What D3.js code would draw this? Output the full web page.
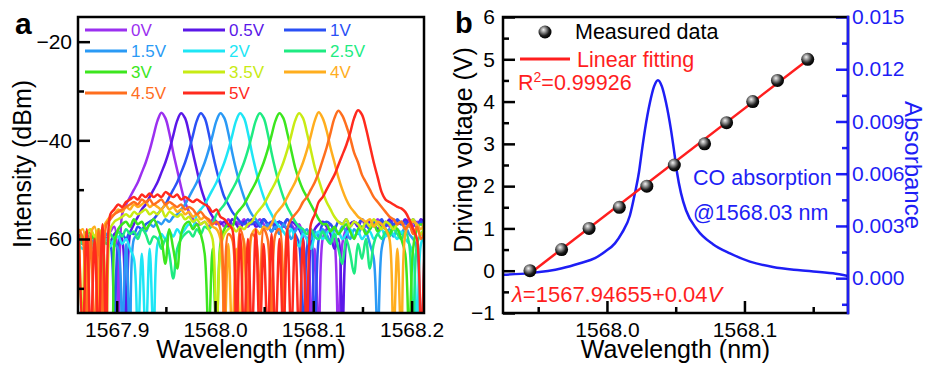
<!DOCTYPE html>
<html>
<head>
<meta charset="utf-8">
<script src="https://cdn.jsdelivr.net/npm/d3@7"></script>
<style>
    body { margin: 0; background: #fff; }
    svg { display: block; font-family: "Liberation Sans", Arial, sans-serif; }
</style>
</head>
<body>
<svg id="chart" width="928" height="366"></svg>
<script>

// ---------- data, panel a (spectra sampled on a common wavelength grid, nm / dBm)
var wavelengthA = [
    1567.8615, 1567.8655, 1567.8695, 1567.8735, 1567.8775, 1567.8815, 1567.8855, 1567.8895, 1567.8935, 1567.8975,
    1567.9015, 1567.9055, 1567.9095, 1567.9135, 1567.9175, 1567.9215, 1567.9255, 1567.9295, 1567.9335, 1567.9375,
    1567.9415, 1567.9455, 1567.9495, 1567.9535, 1567.9575, 1567.9615, 1567.9655, 1567.9695, 1567.9735, 1567.9775,
    1567.9815, 1567.9855, 1567.9895, 1567.9935, 1567.9975, 1568.0015, 1568.0055, 1568.0095, 1568.0135, 1568.0175,
    1568.0215, 1568.0255, 1568.0295, 1568.0335, 1568.0375, 1568.0415, 1568.0455, 1568.0495, 1568.0535, 1568.0575,
    1568.0615, 1568.0655, 1568.0695, 1568.0735, 1568.0775, 1568.0815, 1568.0855, 1568.0895, 1568.0935, 1568.0975,
    1568.1015, 1568.1055, 1568.1095, 1568.1135, 1568.1175, 1568.1215, 1568.1255, 1568.1295, 1568.1335, 1568.1375,
    1568.1415, 1568.1455, 1568.1495, 1568.1535, 1568.1575, 1568.1615, 1568.1655, 1568.1695, 1568.1735, 1568.1775,
    1568.1815, 1568.1855, 1568.1895, 1568.1935, 1568.1975, 1568.2015, 1568.2055, 1568.2095, 1568.2135
];

var spectrum0V = [
    -60, -61, -59.5, -60.5, -61, -60, -59, -60, -58.5, -57.5,
    -80, -55, -53, -51.5, -50, -48.5, -46.5, -44.5, -42, -39,
    -36, -34.4, -35.5, -38.5, -42.5, -46, -49.5, -52.5, -54.5, -56,
    -57, -57, -56.5, -57.5, -56, -57, -56.5, -57.5, -56, -57,
    -56.5, -57, -56, -57.5, -56.5, -57, -56, -57, -58, -56.5,
    -57, -56.5, -57.5, -56, -57, -58, -57, -59, -60, -80,
    -62, -80, -60, -58, -57, -60, -80, -61, -58, -57,
    -56.5, -57, -56, -57.5, -56.5, -57, -56, -57, -56.5, -57.5,
    -56, -57, -56.5, -57, -56, -57.5, -56.5, -57, -56
];
var spectrum0p5V = [
    -61, -60, -61.5, -60, -59.5, -61, -60, -59, -60.5, -59,
    -58.5, -60, -80, -59, -57, -55.5, -54, -53, -51.5, -50,
    -48.5, -46.5, -44.5, -42, -39, -36, -34.5, -35.5, -38.5, -42.5,
    -46, -49.5, -52, -54, -55.5, -56.5, -57, -56.5, -57.5, -56,
    -57, -58, -56.5, -57, -56, -57.5, -57, -56, -57, -58.5,
    -57, -56.5, -57, -58, -56.5, -57, -58, -60, -80, -61,
    -58, -57, -56.5, -57.5, -59, -62, -60, -80, -60, -57,
    -56.5, -57.5, -56, -57, -56.5, -57, -58, -56.5, -57, -56,
    -57.5, -56.5, -57, -56, -57, -56.5, -57.5, -56, -57
];
var spectrum1V = [
    -60, -61, -60, -62, -60.5, -61, -59.5, -60, -61, -80,
    -61, -59, -60, -58.5, -59, -57.5, -58, -57, -56.5, -56,
    -55, -54, -53, -51.5, -50, -48.5, -46.5, -44.5, -42, -39,
    -36, -34.5, -35.5, -38.5, -42.5, -46, -49, -51.5, -53, -54.5,
    -55.5, -56.5, -57, -56, -57, -56.5, -57.5, -56, -57, -56.5,
    -58, -56.5, -57, -56, -57.5, -59, -61, -80, -62, -58,
    -80, -60, -57, -56.5, -57, -58, -56.5, -57, -56, -57.5,
    -56.5, -57, -56, -57, -58, -56.5, -57, -56, -57.5, -56.5,
    -57, -56, -57, -56.5, -57.5, -56, -57, -56.5, -57
];
var spectrum1p5V = [
    -61, -60, -62, -61, -60, -61.5, -60, -59, -60.5, -61,
    -62, -80, -61, -80, -60, -59, -58, -58.5, -57, -57.5,
    -56.5, -57, -56, -56.5, -55.5, -55, -54, -53, -51.5, -50,
    -48.5, -46.5, -44.5, -42, -39, -36, -34.5, -35.5, -38.5, -42.5,
    -46, -49, -51.5, -53.5, -55, -56, -57, -58, -57, -58.5,
    -57.5, -59, -57, -58, -60, -58.5, -57.5, -59, -58, -60,
    -58.5, -59.5, -58, -59, -60.5, -58, -59, -57.5, -58.5, -60,
    -58, -59, -57.5, -58.5, -61, -64, -80, -62, -59, -58,
    -59.5, -58, -59, -57.5, -59, -60, -62, -80, -60
];
var spectrum2V = [
    -61, -62, -60.5, -61, -62, -60, -61, -60, -61.5, -60,
    -59.5, -61, -60, -62, -64, -80, -63, -80, -62, -80,
    -61, -59, -60, -58.5, -59.5, -58, -59, -58, -57, -57.5,
    -55, -54, -53, -51.5, -50, -48.5, -46.5, -44.5, -42, -39,
    -36, -34.5, -35.5, -38.5, -42.5, -46, -49, -51.5, -53.5, -55,
    -56.5, -57.5, -58.5, -59.5, -58, -60, -61.5, -59, -60, -62,
    -59.5, -58.5, -60, -59, -58, -59.5, -58.5, -60, -59, -58,
    -59.5, -58.5, -60, -59, -58.5, -60, -59, -58, -59.5, -58.5,
    -59, -60, -58.5, -60, -61, -63, -80, -61, -59
];
var spectrum2p5V = [
    -60, -61, -59, -60.5, -61, -59.5, -60, -61, -59, -60,
    -58.5, -59.5, -58, -59, -58.5, -60, -58, -59, -61, -59.5,
    -60, -62, -60, -63, -68, -62, -60, -59, -58.5, -59.5,
    -58, -59, -57.5, -58, -57, -55, -54, -53, -51.5, -50,
    -48.5, -46.5, -44.5, -42, -39, -36, -34.5, -35.5, -38.5, -42.5,
    -46, -49, -51.5, -53.5, -55, -56.5, -57.5, -58, -59, -58,
    -59.5, -60, -58.5, -60, -61, -59, -62, -65, -60, -63,
    -67, -61, -64, -60, -66, -61, -59, -60, -58.5, -59.5,
    -58, -59, -60, -58.5, -61, -80, -61, -59, -58
];
var spectrum3V = [
    -59, -60, -58.5, -59, -60, -58, -62, -80, -80, -61,
    -58, -57, -56.5, -57.5, -56, -57, -56.5, -58, -57, -56,
    -57.5, -60, -65, -58, -62, -66, -59, -57, -56.5, -58,
    -57, -59, -63, -80, -62, -80, -61, -58, -57, -57.5,
    -55, -54, -53, -51.5, -50, -48.5, -46.5, -44.5, -42, -39,
    -36, -34.5, -35.5, -38.5, -42, -45.5, -48, -50, -51.5, -53,
    -54.5, -56, -57, -57, -58.5, -57.5, -59, -58, -57, -58.5,
    -60, -58, -57.5, -59, -58, -57, -58.5, -57.5, -58, -59,
    -57.5, -58, -60, -63, -80, -62, -58, -57, -58
];
var spectrum3p5V = [
    -58, -80, -59, -58, -59.5, -58, -60, -80, -58, -56.5,
    -56, -55.5, -55, -55.5, -54.5, -55, -54.5, -54, -55, -54.5,
    -55, -54, -55.5, -54.5, -55, -55.5, -55, -56, -55.5, -56.5,
    -56, -57, -56.5, -58, -60, -80, -62, -59, -58, -57.5,
    -58.5, -57.5, -58, -57, -56.5, -55, -54, -53, -51.5, -50,
    -48.5, -46.5, -44.5, -42, -39, -36, -34.5, -35.5, -38.5, -42,
    -45.5, -48, -50.5, -52.5, -54, -55.5, -56.5, -57, -56, -57.5,
    -56.5, -57, -58, -56.5, -57.5, -56, -57, -58, -56.5, -57,
    -58, -57, -56.5, -58, -57, -56, -57.5, -59, -57
];
var spectrum4V = [
    -59, -58, -80, -59, -57.5, -80, -58, -56.5, -55.5, -55,
    -54, -54.5, -53.5, -54, -53, -53.5, -53, -52.5, -53.5, -53,
    -53.5, -54, -53, -54, -53.5, -54.5, -54, -55, -54.5, -55.5,
    -55, -56, -55.5, -56.5, -57.5, -58, -60, -80, -61, -80,
    -62, -80, -60, -80, -59, -58, -59, -57.5, -58, -57,
    -55, -54, -53, -51.5, -50, -48.5, -46.5, -44.5, -42, -39,
    -36, -34.3, -35.5, -38, -41.5, -44.5, -47.5, -50, -52, -53.5,
    -54.5, -55.5, -56, -56.5, -56, -57.5, -56.5, -57, -58, -60,
    -80, -62, -80, -59, -57, -56.5, -57, -58, -56
];
var spectrum4p5V = [
    -58, -60, -80, -59, -80, -58, -80, -57, -56, -55,
    -54.5, -54, -53.5, -53, -52.5, -53, -52, -52.5, -52, -53,
    -52.5, -52, -53, -52.5, -53, -53.5, -53, -54, -53.5, -54,
    -55, -54.5, -55.5, -56, -57, -56.5, -58, -80, -59, -60,
    -80, -58, -61, -80, -59, -60, -80, -58, -60, -80,
    -59, -58, -80, -58, -56, -55, -54, -52.5, -51.5, -50,
    -48.5, -46.5, -44, -41.5, -38.5, -35.5, -34, -35, -37, -39.5,
    -42.5, -44.5, -47, -48.5, -50, -51.5, -52.5, -53.5, -54.5, -55.5,
    -56, -57, -56.5, -58, -57, -59, -57.5, -60, -58
];
var spectrum5V = [
    -59, -80, -58, -80, -60, -80, -57, -80, -55, -54,
    -53, -53.5, -52.5, -52, -51.5, -52, -51, -51.5, -50.8, -51.5,
    -51, -51.5, -50.5, -51, -51.5, -51, -52, -51.5, -52, -52.5,
    -52, -52.5, -53, -53.5, -54.5, -54, -55.5, -56, -57, -58,
    -80, -59, -80, -60, -80, -58, -80, -61, -80, -59,
    -80, -60, -80, -58, -80, -59, -80, -60, -80, -57,
    -55, -52.5, -51.5, -50, -48.5, -47, -45, -43, -41, -38.5,
    -35.5, -33.9, -34.8, -37.5, -41, -44.5, -47.5, -50.5, -52, -52.5,
    -53, -53.5, -53.8, -54.5, -56, -58, -60, -80, -59
];

var voltageLabels = ["0V", "0.5V", "1V", "1.5V", "2V", "2.5V", "3V", "3.5V", "4V", "4.5V", "5V"];
var spectra = [spectrum0V, spectrum0p5V, spectrum1V, spectrum1p5V, spectrum2V, spectrum2p5V,
    spectrum3V, spectrum3p5V, spectrum4V, spectrum4p5V, spectrum5V];
var spectraColors = ["#9b30f0", "#5a17e8", "#2a50f5", "#2a9af5", "#1ee6f5", "#1eeb82",
    "#3ce61e", "#c8eb14", "#ffae1e", "#ff6e1e", "#ff2a1e"];

var xTicksA = [1567.9, 1568.0, 1568.1, 1568.2];
var xMinorA = [1567.95, 1568.05, 1568.15];
var yTicksA = [-20, -40, -60];
var yMinorA = [-30, -50, -70];

// ---------- data, panel b
var measuredVoltage = [0, 0.5, 1, 1.5, 2, 2.5, 3, 3.5, 4, 4.5, 5];
var measuredWavelength = [1567.944, 1567.967, 1567.987, 1568.009, 1568.029, 1568.049,
    1568.071, 1568.087, 1568.106, 1568.124, 1568.146];

var fitIntercept = 1567.94655;
var fitSlope = 0.04;
var fitVoltageRange = [-0.07, 4.93];

var absorptionWavelength = [1567.9244, 1567.944, 1567.9673, 1567.9804, 1567.9913, 1567.9985, 1568.0058,
    1568.0109, 1568.0167, 1568.0204, 1568.0233, 1568.0252, 1568.0276, 1568.0313, 1568.0342, 1568.0371,
    1568.0400, 1568.0429, 1568.0466, 1568.0490, 1568.0509, 1568.0538, 1568.0575, 1568.0655, 1568.0771,
    1568.0895, 1568.104, 1568.1207, 1568.1404, 1568.1644, 1568.1753];
var absorbance = [0.0002, 0.00029, 0.00057, 0.00086, 0.00115, 0.00152, 0.0020,
    0.0026, 0.0036, 0.0049, 0.0061, 0.0072, 0.0085, 0.0101, 0.0110, 0.01137,
    0.0110, 0.0101, 0.0085, 0.0072, 0.0061, 0.0049, 0.0039, 0.0028, 0.00195,
    0.00142, 0.00095, 0.00064, 0.00045, 0.00028, 0.00012];

var xTicksB = [1568.0, 1568.1];
var xMinorB = [1567.95, 1568.05, 1568.15];
var yTicksB = [-1, 0, 1, 2, 3, 4, 5, 6];
var yMinorB = [-0.5, 0.5, 1.5, 2.5, 3.5, 4.5, 5.5];
var yTicksR = [0, 0.003, 0.006, 0.009, 0.012, 0.015];
var yMinorR = [-0.0015, 0.0015, 0.0045, 0.0075, 0.0105, 0.0135];

var RED = "#ff1e1e";
var BLUE = "#1e1ef5";
var FONT = "Liberation Sans, Arial, sans-serif";

var svg = d3.select("#chart");
svg.append("rect").attr("width", 928).attr("height", 366).attr("fill", "#fff");
var defs = svg.append("defs");

// inward ticks, no domain line (the frame is drawn separately)
function addAxis(g, axis, tx, ty, color, minor) {
    var ax = g.append("g")
        .attr("transform", "translate(" + tx + "," + ty + ")")
        .call(axis);
    ax.attr("font-family", FONT).attr("font-size", 21);
    ax.select(".domain").remove();
    ax.selectAll("line").attr("stroke", color).attr("stroke-width", 2.5);
    if (minor) {
        ax.selectAll("text").remove();
    } else {
        ax.selectAll("text").attr("fill", color);
    }
    return ax;
}

// ================= panel a =================
var pa = {left: 78, right: 424, top: 17, bottom: 313};
var xA = d3.scaleLinear().domain([1567.8606, 1568.2126]).range([pa.left, pa.right]);
var yA = d3.scaleLinear().domain([-75, -15]).range([pa.bottom, pa.top]);

defs.append("clipPath").attr("id", "clipA").append("rect")
    .attr("x", pa.left).attr("y", pa.top)
    .attr("width", pa.right - pa.left).attr("height", pa.bottom - pa.top);

var lineA = d3.line()
    .x(function (d) { return xA(d[0]); })
    .y(function (d) { return yA(d[1]); })
    .curve(d3.curveCatmullRom.alpha(0.5));

var gA = svg.append("g");

gA.append("g")
    .attr("clip-path", "url(#clipA)")
    .selectAll("path")
    .data(spectra)
    .enter()
    .append("path")
    .attr("d", function (s) {
        return lineA(wavelengthA.map(function (w, i) { return [w, s[i]]; }));
    })
    .attr("fill", "none")
    .attr("stroke", function (s, i) { return spectraColors[i]; })
    .attr("stroke-width", 2.5)
    .attr("stroke-linejoin", "round");

addAxis(gA, d3.axisBottom(xA).tickValues(xTicksA).tickFormat(d3.format(".1f"))
    .tickSizeInner(-12).tickSizeOuter(0).tickPadding(9), 0, pa.bottom, "#000");
addAxis(gA, d3.axisBottom(xA).tickValues(xMinorA)
    .tickSizeInner(-6).tickSizeOuter(0), 0, pa.bottom, "#000", true);
addAxis(gA, d3.axisLeft(yA).tickValues(yTicksA)
    .tickSizeInner(-12).tickSizeOuter(0).tickPadding(6), pa.left, 0, "#000");
addAxis(gA, d3.axisLeft(yA).tickValues(yMinorA)
    .tickSizeInner(-6).tickSizeOuter(0), pa.left, 0, "#000", true);

gA.append("rect")
    .attr("x", pa.left).attr("y", pa.top)
    .attr("width", pa.right - pa.left).attr("height", pa.bottom - pa.top)
    .attr("fill", "none").attr("stroke", "#000").attr("stroke-width", 2.5);

// legend, 3 columns
var legCols = [85, 183, 284];
var legRows = [30, 51, 72, 93];
var legA = gA.append("g").selectAll("g")
    .data(voltageLabels)
    .enter()
    .append("g")
    .attr("transform", function (d, i) {
        return "translate(" + legCols[i % 3] + "," + legRows[Math.floor(i / 3)] + ")";
    });
legA.append("line")
    .attr("x1", 0).attr("x2", 42).attr("y1", 0).attr("y2", 0)
    .attr("stroke", function (d, i) { return spectraColors[i]; })
    .attr("stroke-width", 3);
legA.append("text")
    .attr("x", 46).attr("y", 6)
    .attr("font-size", 17)
    .attr("fill", function (d, i) { return spectraColors[i]; })
    .text(function (d) { return d; });

gA.append("text")
    .attr("transform", "translate(31,164) rotate(-90)")
    .attr("text-anchor", "middle").attr("font-size", 25)
    .text("Intensity (dBm)");
gA.append("text")
    .attr("x", (pa.left + pa.right) / 2).attr("y", 358)
    .attr("text-anchor", "middle").attr("font-size", 25)
    .text("Wavelength (nm)");
gA.append("text")
    .attr("x", 15).attr("y", 34)
    .attr("font-size", 30).attr("font-weight", "bold")
    .text("a");

// ================= panel b =================
var pb = {left: 503, right: 848, top: 17, bottom: 313};
var xB = d3.scaleLinear().domain([1567.9244, 1568.1753]).range([pb.left, pb.right]);
var yB = d3.scaleLinear().domain([-1, 6]).range([pb.bottom, pb.top]);
var yR = d3.scaleLinear().domain([-0.002, 0.015]).range([pb.bottom, pb.top]);

defs.append("clipPath").attr("id", "clipB").append("rect")
    .attr("x", pb.left).attr("y", pb.top)
    .attr("width", pb.right - pb.left).attr("height", pb.bottom - pb.top);

var ball = defs.append("radialGradient").attr("id", "ball")
    .attr("cx", "40%").attr("cy", "38%").attr("r", "62%")
    .attr("fx", "38%").attr("fy", "32%");
ball.append("stop").attr("offset", "0%").attr("stop-color", "#f2f2f2");
ball.append("stop").attr("offset", "30%").attr("stop-color", "#9a9a9a");
ball.append("stop").attr("offset", "70%").attr("stop-color", "#1c1c1c");
ball.append("stop").attr("offset", "100%").attr("stop-color", "#000");

var gB = svg.append("g");
var plotB = gB.append("g").attr("clip-path", "url(#clipB)");

// CO absorption line (right axis)
plotB.append("path")
    .datum(absorptionWavelength.map(function (w, i) { return [w, absorbance[i]]; }))
    .attr("d", d3.line()
        .x(function (d) { return xB(d[0]); })
        .y(function (d) { return yR(d[1]); })
        .curve(d3.curveMonotoneX))
    .attr("fill", "none").attr("stroke", BLUE).attr("stroke-width", 2.5);

// linear fit
plotB.append("path")
    .datum(fitVoltageRange.map(function (v) { return [fitIntercept + fitSlope * v, v]; }))
    .attr("d", d3.line()
        .x(function (d) { return xB(d[0]); })
        .y(function (d) { return yB(d[1]); }))
    .attr("fill", "none").attr("stroke", RED).attr("stroke-width", 2.5);

// measured points
plotB.selectAll("circle")
    .data(measuredVoltage)
    .enter()
    .append("circle")
    .attr("cx", function (d, i) { return xB(measuredWavelength[i]); })
    .attr("cy", function (d) { return yB(d); })
    .attr("r", 6.5)
    .attr("fill", "url(#ball)");

addAxis(gB, d3.axisBottom(xB).tickValues(xTicksB).tickFormat(d3.format(".1f"))
    .tickSizeInner(-12).tickSizeOuter(0).tickPadding(9), 0, pb.bottom, "#000");
addAxis(gB, d3.axisBottom(xB).tickValues(xMinorB)
    .tickSizeInner(-6).tickSizeOuter(0), 0, pb.bottom, "#000", true);
addAxis(gB, d3.axisLeft(yB).tickValues(yTicksB).tickFormat(d3.format("d"))
    .tickSizeInner(-12).tickSizeOuter(0).tickPadding(8), pb.left, 0, "#000");
addAxis(gB, d3.axisLeft(yB).tickValues(yMinorB)
    .tickSizeInner(-6).tickSizeOuter(0), pb.left, 0, "#000", true);
addAxis(gB, d3.axisRight(yR).tickValues(yTicksR).tickFormat(d3.format(".3f"))
    .tickSizeInner(-12).tickSizeOuter(0).tickPadding(4), pb.right, 0, BLUE);
addAxis(gB, d3.axisRight(yR).tickValues(yMinorR)
    .tickSizeInner(-6).tickSizeOuter(0), pb.right, 0, BLUE, true);

gB.append("rect")
    .attr("x", pb.left).attr("y", pb.top)
    .attr("width", pb.right - pb.left).attr("height", pb.bottom - pb.top)
    .attr("fill", "none").attr("stroke", "#000").attr("stroke-width", 2.5);
gB.append("line")
    .attr("x1", pb.right).attr("x2", pb.right)
    .attr("y1", pb.top - 1.25).attr("y2", pb.bottom + 1.25)
    .attr("stroke", BLUE).attr("stroke-width", 2.5);

// legend and annotations
gB.append("circle").attr("cx", 545).attr("cy", 32).attr("r", 6.5).attr("fill", "url(#ball)");
gB.append("text").attr("x", 575).attr("y", 39).attr("font-size", 21.5).text("Measured data");
gB.append("line").attr("x1", 520).attr("x2", 570).attr("y1", 59).attr("y2", 59)
    .attr("stroke", RED).attr("stroke-width", 3);
gB.append("text").attr("x", 577).attr("y", 67).attr("font-size", 21.5).attr("fill", RED)
    .text("Linear fitting");

var r2 = gB.append("text").attr("x", 518).attr("y", 90).attr("font-size", 21.5).attr("fill", RED);
r2.append("tspan").text("R");
r2.append("tspan").attr("font-size", 14).attr("dy", -8).text("2");
r2.append("tspan").attr("dy", 8).text("=0.99926");

var eq = gB.append("text").attr("x", 512).attr("y", 302).attr("font-size", 22).attr("fill", RED);
eq.append("tspan").attr("font-style", "italic").text("λ");
eq.append("tspan").text("=1567.94655+0.04");
eq.append("tspan").attr("font-style", "italic").text("V");

gB.append("text").attr("x", 693).attr("y", 185).attr("font-size", 21.5).attr("fill", BLUE)
    .text("CO absorption");
gB.append("text").attr("x", 693).attr("y", 220).attr("font-size", 21.5).attr("fill", BLUE)
    .text("@1568.03 nm");

gB.append("text")
    .attr("transform", "translate(472,150) rotate(-90)")
    .attr("text-anchor", "middle").attr("font-size", 25)
    .text("Driving voltage (V)");
gB.append("text")
    .attr("transform", "translate(905,165) rotate(90)")
    .attr("text-anchor", "middle").attr("font-size", 24).attr("fill", BLUE)
    .text("Absorbance");
gB.append("text")
    .attr("x", (pb.left + pb.right) / 2).attr("y", 358)
    .attr("text-anchor", "middle").attr("font-size", 25)
    .text("Wavelength (nm)");
gB.append("text")
    .attr("x", 455).attr("y", 33)
    .attr("font-size", 29).attr("font-weight", "bold")
    .text("b");

</script>
</body>
</html>
